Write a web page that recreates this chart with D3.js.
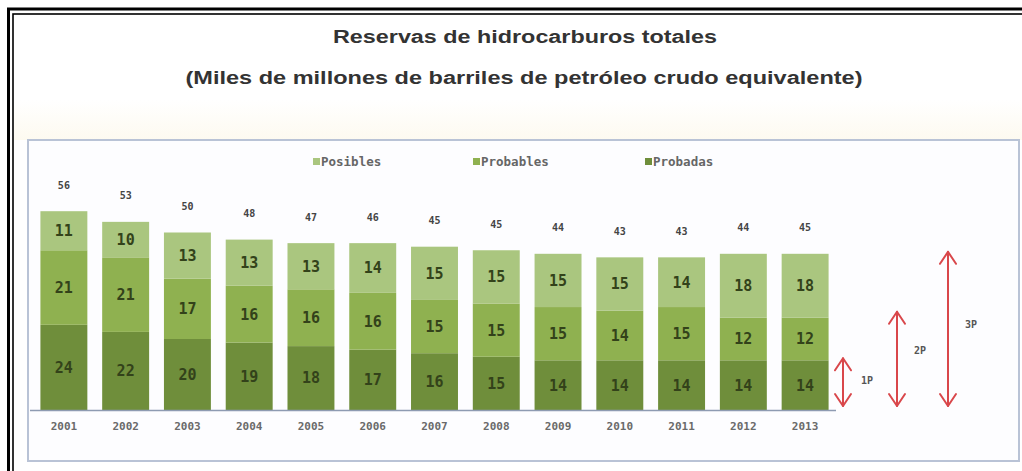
<!DOCTYPE html>
<html>
<head>
<meta charset="utf-8">
<script src="https://cdn.jsdelivr.net/npm/d3@7"></script>
<style>
  body { margin: 0; background: #fff; }
  svg { display: block; }
</style>
</head>
<body>
<div id="chart"></div>
<script>
// Chart data
const years = ['2001', '2002', '2003', '2004', '2005', '2006', '2007',
               '2008', '2009', '2010', '2011', '2012', '2013'];
const probadas = [24, 22, 20, 19, 18, 17, 16, 15, 14, 14, 14, 14, 14];
const probables = [21, 21, 17, 16, 16, 16, 15, 15, 15, 14, 15, 12, 12];
const posibles = [11, 10, 13, 13, 13, 14, 15, 15, 15, 15, 14, 18, 18];
const totals = [56, 53, 50, 48, 47, 46, 45, 45, 44, 43, 43, 44, 45];
const seriesNames = ['Posibles', 'Probables', 'Probadas'];
const arrowLabels = ['1P', '2P', '3P'];

const colors = {
    Probadas: '#6f8e3b',
    Probables: '#8fb150',
    Posibles: '#aac67f'
};

const width = 1022, height = 471;
const monoFont = '"DejaVu Sans Mono", monospace';

const svg = d3.select('#chart')
    .append('svg')
    .attr('width', width)
    .attr('height', height);

// Faint cream band above the chart box
const defs = svg.append('defs');
const grad = defs.append('linearGradient')
    .attr('id', 'band')
    .attr('x1', 0).attr('y1', 0).attr('x2', 0).attr('y2', 1);
grad.append('stop').attr('offset', '0%').attr('stop-color', '#ffffff');
grad.append('stop').attr('offset', '100%').attr('stop-color', '#fdfaf0');
svg.append('rect')
    .attr('x', 14).attr('y', 100)
    .attr('width', 1008).attr('height', 40)
    .attr('fill', 'url(#band)');

// Double black frame (runs off the right and bottom edges)
svg.append('rect')
    .attr('x', 8.5).attr('y', 9)
    .attr('width', 1040).attr('height', 500)
    .attr('fill', 'none')
    .attr('stroke', '#000')
    .attr('stroke-width', 3);
svg.append('rect')
    .attr('x', 13).attr('y', 14)
    .attr('width', 1040).attr('height', 500)
    .attr('fill', 'none')
    .attr('stroke', '#000')
    .attr('stroke-width', 1.6);

// Titles
svg.append('text')
    .attr('x', 525).attr('y', 43)
    .attr('text-anchor', 'middle')
    .attr('font-family', '"Liberation Sans", Arial, sans-serif')
    .attr('font-size', 18)
    .attr('font-weight', 'bold')
    .attr('fill', '#333')
    .attr('textLength', 384)
    .attr('lengthAdjust', 'spacingAndGlyphs')
    .text('Reservas de hidrocarburos totales');
svg.append('text')
    .attr('x', 524).attr('y', 84)
    .attr('text-anchor', 'middle')
    .attr('font-family', '"Liberation Sans", Arial, sans-serif')
    .attr('font-size', 18)
    .attr('font-weight', 'bold')
    .attr('fill', '#333')
    .attr('textLength', 677)
    .attr('lengthAdjust', 'spacingAndGlyphs')
    .text('(Miles de millones de barriles de petróleo crudo equivalente)');

// Chart box
svg.append('rect')
    .attr('x', 28).attr('y', 140)
    .attr('width', 991).attr('height', 321)
    .attr('fill', '#fdfdff')
    .attr('stroke', '#b9c3d6')
    .attr('stroke-width', 2);

// Scales
const x = d3.scaleBand()
    .domain(years)
    .range([33, 836])
    .paddingInner(0.24)
    .paddingOuter(0.12);
const y = d3.scaleLinear()
    .domain([0, 60])
    .range([410, 410 - 60 * 3.55]);

// Stack data
const rows = years.map((yr, i) => ({
    year: yr,
    Probadas: probadas[i],
    Probables: probables[i],
    Posibles: posibles[i],
    total: totals[i]
}));
const stack = d3.stack().keys(['Probadas', 'Probables', 'Posibles']);
const layers = stack(rows);

const layer = svg.selectAll('.layer')
    .data(layers)
    .enter()
    .append('g')
    .attr('class', 'layer')
    .attr('fill', d => colors[d.key]);

layer.selectAll('rect')
    .data(d => d)
    .enter()
    .append('rect')
    .attr('x', d => x(d.data.year))
    .attr('y', d => y(d[1]))
    .attr('width', x.bandwidth())
    .attr('height', d => y(d[0]) - y(d[1]));

// Segment value labels
layer.selectAll('text')
    .data(d => d.map(v => ({v, key: d.key})))
    .enter()
    .append('text')
    .attr('x', d => x(d.v.data.year) + x.bandwidth() / 2)
    .attr('y', d => (y(d.v[0]) + y(d.v[1])) / 2)
    .attr('dy', '0.36em')
    .attr('text-anchor', 'middle')
    .attr('font-family', monoFont)
    .attr('font-size', 15)
    .attr('font-weight', 'bold')
    .attr('fill', '#33421a')
    .text(d => d.v.data[d.key]);

// Totals above bars
svg.selectAll('.total')
    .data(rows)
    .enter()
    .append('text')
    .attr('class', 'total')
    .attr('x', d => x(d.year) + x.bandwidth() / 2)
    .attr('y', d => y(d.Probadas + d.Probables + d.Posibles) - 26)
    .attr('dy', '0.35em')
    .attr('text-anchor', 'middle')
    .attr('font-family', monoFont)
    .attr('font-size', 10)
    .attr('font-weight', 'bold')
    .attr('fill', '#444')
    .text(d => d.total);

// X axis
const xAxis = svg.append('g')
    .attr('transform', `translate(0,${y(0)})`)
    .call(d3.axisBottom(x).tickSize(0).tickPadding(12));
xAxis.select('.domain')
    .attr('d', 'M30,0.5H836')
    .attr('stroke', '#8e9bb2')
    .attr('stroke-width', 1.5);
xAxis.selectAll('text')
    .attr('font-family', monoFont)
    .attr('font-size', 11)
    .attr('font-weight', 'bold')
    .attr('fill', '#6a6a6a');

// Legend
const legendX = [313, 473, 645];
const legend = svg.selectAll('.legend')
    .data(seriesNames)
    .enter()
    .append('g')
    .attr('class', 'legend')
    .attr('transform', (d, i) => `translate(${legendX[i]},162)`);
legend.append('rect')
    .attr('x', 0).attr('y', -4)
    .attr('width', 7).attr('height', 7)
    .attr('fill', d => colors[d]);
legend.append('text')
    .attr('x', 8)
    .attr('dy', '0.35em')
    .attr('font-family', monoFont)
    .attr('font-size', 12.5)
    .attr('font-weight', 'bold')
    .attr('fill', '#666')
    .text(d => d);

// Red double arrows for 1P / 2P / 3P, using the last year's stacked values
const last = rows[rows.length - 1];
const cumulative = [
    last.Probadas,
    last.Probadas + last.Probables,
    last.Probadas + last.Probables + last.Posibles
];
const arrowX = [843, 897, 948];
const labelDx = [18, 17, 17];
const labelDy = [-2, -8, -4];
const arrowBottom = 406;
const red = '#d9474b';

cumulative.forEach((v, i) => {
    const ax = arrowX[i];
    const top = y(v) - (i === 1 ? 6 : 2);
    const g = svg.append('g')
        .attr('fill', 'none')
        .attr('stroke', red)
        .attr('stroke-width', 2)
        .attr('stroke-linecap', 'round')
        .attr('stroke-linejoin', 'round');
    g.append('line')
        .attr('x1', ax).attr('x2', ax)
        .attr('y1', top).attr('y2', arrowBottom);
    g.append('path')
        .attr('d', `M${ax - 8},${top + 12}L${ax},${top}L${ax + 8},${top + 12}`);
    g.append('path')
        .attr('d', `M${ax - 8},${arrowBottom - 12}L${ax},${arrowBottom}L${ax + 8},${arrowBottom - 12}`);
    svg.append('text')
        .attr('x', ax + labelDx[i])
        .attr('y', (top + arrowBottom) / 2 + labelDy[i])
        .attr('dy', '0.35em')
        .attr('font-family', monoFont)
        .attr('font-size', 10)
        .attr('font-weight', 'bold')
        .attr('fill', '#555')
        .text(arrowLabels[i]);
});
</script>
</body>
</html>
